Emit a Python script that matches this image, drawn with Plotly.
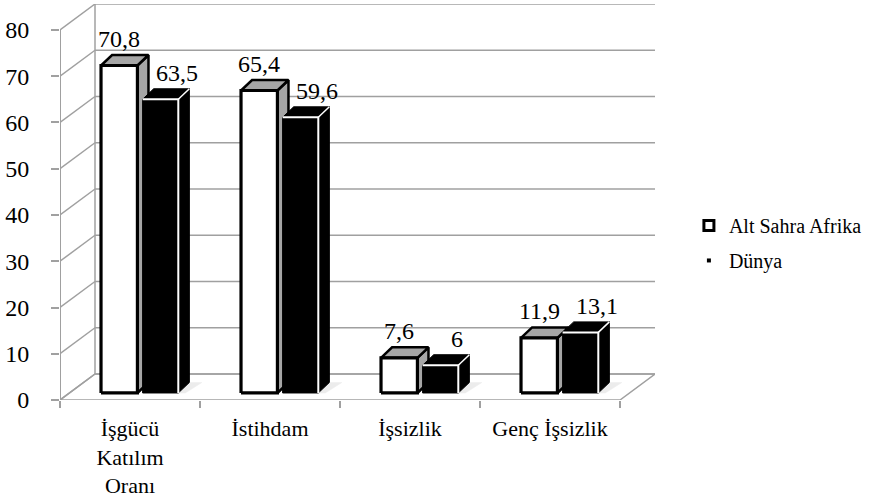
import plotly.graph_objects as go

# ---------------- data ----------------
categories = ["İşgücü<br>Katılım<br>Oranı", "İstihdam", "İşsizlik", "Genç İşsizlik"]
alt_sahra = [70.8, 65.4, 7.6, 11.9]
dunya = [63.5, 59.6, 6.0, 13.1]
y_ticks = [0, 10, 20, 30, 40, 50, 60, 70, 80]
series_names = ["Alt Sahra Afrika", "Dünya"]

# ---------------- 3D projection constants (axis units) ----------------
X_RANGE = [-0.5, 3.75]
Y_RANGE = [0, 85.62]
WALL_DX, WALL_DY = 0.25, 5.62      # depth of the floor / side wall
BASE = 1.52                        # bar front face lifted by its depth position
BAR_DX, BAR_DY = 0.079, 2.27       # bar depth
WHITE_OFF = (-0.207, 0.053)
BLACK_OFF = (0.09, 0.345)
GRID = "#a0a0a0"
FONT = "Liberation Serif, Times New Roman, serif"

fig = go.Figure()


def poly(pts, fill, lc, lw):
    xs = [p[0] for p in pts] + [pts[0][0]]
    ys = [p[1] for p in pts] + [pts[0][1]]
    fig.add_trace(go.Scatter(x=xs, y=ys, mode="lines", fill="toself", fillcolor=fill,
                             line=dict(color=lc, width=lw), hoverinfo="skip",
                             showlegend=False))


def seg(pts, color, width):
    fig.add_trace(go.Scatter(x=[p[0] for p in pts], y=[p[1] for p in pts], mode="lines",
                             line=dict(color=color, width=width), hoverinfo="skip",
                             showlegend=False))


def box(c, off, v, kind):
    x0, x1 = c + off[0], c + off[1]
    y0, y1 = BASE, BASE + v
    side = [(x1, y0), (x1 + BAR_DX, y0 + BAR_DY), (x1 + BAR_DX, y1 + BAR_DY), (x1, y1)]
    top = [(x0, y1), (x1, y1), (x1 + BAR_DX, y1 + BAR_DY), (x0 + BAR_DX, y1 + BAR_DY)]
    front = [(x0, y0), (x1, y0), (x1, y1), (x0, y1)]
    if kind == "white":
        poly(side, "#a6a6a6", "black", 2.5)
        poly(top, "#a6a6a6", "black", 2.5)
        poly(front, "white", "black", 3.2)
    else:
        # soft floor shadow
        poly([(x1, y0), (x1 + BAR_DX, y0 + BAR_DY), (x1 + BAR_DX + 0.09, y0 + BAR_DY),
              (x1 + 0.05, y0)], "#ececec", "#ececec", 0.5)
        poly(side, "black", "black", 1)
        poly(top, "black", "black", 1)
        poly(front, "black", "black", 1)
        seg([(x0, y1), (x1, y1), (x1, y0)], "white", 2)
        seg([(x1, y1), (x1 + BAR_DX, y1 + BAR_DY)], "white", 1.5)


def fmt(v):
    return f"{v:g}".replace(".", ",")


annotations = []
for i in range(len(categories)):
    box(i, WHITE_OFF, alt_sahra[i], "white")
    box(i, BLACK_OFF, dunya[i], "black")
    for off, v, xs in ((WHITE_OFF, alt_sahra[i], 0), (BLACK_OFF, dunya[i], 17)):
        annotations.append(dict(x=i + (off[0] + off[1]) / 2, y=BASE + v + BAR_DY,
                                text=fmt(v), showarrow=False, yanchor="middle",
                                yshift=16, xshift=xs,
                                font=dict(size=24, color="black", family=FONT)))

# legend entries
fig.add_trace(go.Scatter(x=[None], y=[None], mode="markers", name=series_names[0],
                         legendgroup="a",
                         marker=dict(symbol="square", size=10, color="white",
                                     line=dict(color="black", width=3))))
fig.add_trace(go.Scatter(x=[None], y=[None], mode="markers", name=series_names[1],
                         legendgroup="b",
                         marker=dict(symbol="square", size=4, color="black")))

# walls, floor and gridlines
shapes = []
fx0, fx1 = X_RANGE[0], 3.5
bx0, bx1 = fx0 + WALL_DX, fx1 + WALL_DX
shapes.append(dict(type="path", layer="below", xref="x", yref="y",
                   path=f"M{fx0},0 L{fx1},0 L{bx1},{WALL_DY} L{bx0},{WALL_DY} Z",
                   fillcolor="white", line=dict(color=GRID, width=1.5)))
for v in y_ticks:
    shapes.append(dict(type="line", layer="below", xref="x", yref="y",
                       x0=bx0, x1=bx1, y0=v + WALL_DY, y1=v + WALL_DY,
                       line=dict(color=GRID, width=1.5)))
    shapes.append(dict(type="line", layer="below", xref="x", yref="y",
                       x0=fx0, x1=bx0, y0=v, y1=v + WALL_DY,
                       line=dict(color=GRID, width=1.5)))
shapes.append(dict(type="line", layer="below", xref="x", yref="y",
                   x0=bx0, x1=bx0, y0=WALL_DY, y1=y_ticks[-1] + WALL_DY,
                   line=dict(color=GRID, width=1.5)))
shapes.append(dict(type="line", layer="below", xref="x", yref="y",
                   x0=fx0, x1=fx0, y0=0, y1=y_ticks[-1],
                   line=dict(color=GRID, width=2)))

fig.update_layout(
    width=873, height=499,
    margin=dict(l=60, r=218, t=4, b=99, autoexpand=False),
    paper_bgcolor="white", plot_bgcolor="white",
    font=dict(family=FONT, color="black"),
    shapes=shapes, annotations=annotations,
    showlegend=True,
    legend=dict(x=1.057, y=0.49, xanchor="left", yanchor="top",
                font=dict(size=20, family=FONT, color="black"),
                tracegroupgap=6, itemwidth=30, bgcolor="rgba(0,0,0,0)"),
    xaxis=dict(range=X_RANGE, showgrid=False, zeroline=False, showline=False,
               tickmode="array", tickvals=list(range(len(categories))),
               ticktext=categories, ticks="", automargin=False,
               tickfont=dict(size=22, family=FONT, color="black"),
               ticklabelstandoff=13,
               minor=dict(tickmode="array",
                          tickvals=[k - 0.5 for k in range(len(categories) + 1)],
                          ticks="outside", ticklen=7, tickwidth=1.5, tickcolor=GRID)),
    yaxis=dict(range=Y_RANGE, showgrid=False, zeroline=False, showline=False,
               tickmode="array", tickvals=y_ticks, ticks="outside", ticklen=8,
               tickwidth=1.5, tickcolor=GRID, automargin=False,
               ticklabelstandoff=17,
               tickfont=dict(size=24, family=FONT, color="black")),
)

fig.write_html("out.html", config={"displayModeBar": False},
               post_script="document.body.style.margin='0';")
